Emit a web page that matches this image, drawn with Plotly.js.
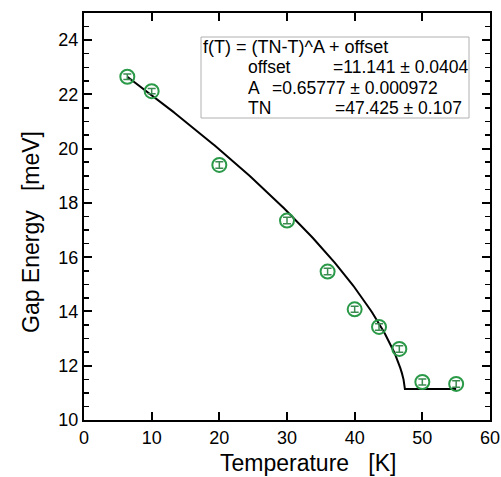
<!DOCTYPE html>
<html>
<head>
<meta charset="utf-8">
<script src="https://cdn.plot.ly/plotly-3.0.1.min.js"></script>
<style>html,body{margin:0;padding:0;background:#fff;}#chart{width:501px;height:477px;}</style>
</head>
<body>
<div id="chart"></div>
<script>
// Measured data
const temperature = [6.4, 10.0, 20.0, 30.0, 36.0, 40.0, 43.6, 46.6, 50.0, 55.0];
const gapEnergy   = [22.65, 22.12, 19.40, 17.35, 15.47, 14.08, 13.43, 12.62, 11.40, 11.33];
const gapError    = [0.10, 0.10, 0.12, 0.12, 0.12, 0.11, 0.12, 0.12, 0.11, 0.12];

// Fit parameters shown in the chart's text box
const fitNames  = ["offset", "A", "TN"];
const fitValues = [11.141, 0.65777, 47.425];
const fitErrors = ["0.0404", "0.000972", "0.107"];
const fitRange  = [6.4, 55.0];

const xTicks = [0, 10, 20, 30, 40, 50, 60];
const yTicks = [10, 12, 14, 16, 18, 20, 22, 24];

// fit curve f(T) = (TN-T)^A + offset (offset above TN)
const [offset, A, TN] = fitValues;
const fitT = [];
const nSteps = 200;
for (let i = 0; i <= nSteps; i++) {
  const t = fitRange[0] + (fitRange[1] - fitRange[0]) * i / nSteps;
  if (t < TN) fitT.push(t);
}
fitT.push(TN);
fitT.push(fitRange[1]);
const fitE = fitT.map(t => t < TN ? Math.pow(TN - t, A) + offset : offset);

const green = '#2b9a48';
const font = 'Liberation Sans, Arial, Helvetica, sans-serif';

// plot area pixel geometry for placing annotations
const L = 84, R = 490, TOP = 13, BOT = 420;
const px = x => (x - L) / (R - L);
const py = y => (BOT - y) / (BOT - TOP);

const traces = [
  {
    x: fitT, y: fitE, mode: 'lines', type: 'scatter',
    line: {color: '#000', width: 2}, hoverinfo: 'skip'
  },
  {
    x: temperature, y: gapEnergy, mode: 'markers', type: 'scatter',
    marker: {symbol: 'circle-open', size: 14, color: green, line: {color: green, width: 2}},
    error_y: {type: 'data', array: gapError, visible: true, color: '#3b8a50', thickness: 1.5, width: 4}
  }
];

const boxLines = [
  {text: 'f(T) = (TN-T)^A + offset', x: 201, y: 47, size: 18},
  {text: fitNames[0], x: 246, y: 67, size: 17.5},
  {text: '=' + fitValues[0] + ' \u00B1 ' + fitErrors[0], x: 331, y: 67, size: 17.5},
  {text: fitNames[1], x: 246, y: 88, size: 17.5},
  {text: '=' + fitValues[1] + ' \u00B1 ' + fitErrors[1], x: 270, y: 88, size: 17.5},
  {text: fitNames[2], x: 246, y: 108, size: 17.5},
  {text: '=' + fitValues[2] + ' \u00B1 ' + fitErrors[2], x: 333, y: 108, size: 17.5}
];

const annotations = boxLines.map(b => ({
  xref: 'paper', yref: 'paper', x: px(b.x), y: py(b.y),
  xanchor: 'left', yanchor: 'middle', showarrow: false,
  text: b.text, font: {family: font, size: b.size, color: '#000'}
}));

annotations.push({
  xref: 'paper', yref: 'paper', x: px(308), y: py(463),
  xanchor: 'center', yanchor: 'middle', showarrow: false,
  text: 'Temperature\u00A0\u00A0\u00A0[K]', font: {family: font, size: 23, color: '#000'}
});
annotations.push({
  xref: 'paper', yref: 'paper', x: px(31), y: py(232),
  xanchor: 'center', yanchor: 'middle', showarrow: false, textangle: -90,
  text: 'Gap Energy\u00A0\u00A0\u00A0[meV]', font: {family: font, size: 23, color: '#000'}
});

const layout = {
  width: 501, height: 477,
  margin: {l: L, r: 501 - R, t: TOP, b: 477 - BOT, pad: 0},
  paper_bgcolor: '#fff', plot_bgcolor: '#fff',
  showlegend: false,
  font: {family: font, color: '#000'},
  xaxis: {
    range: [0, 60], tickvals: xTicks, ticktext: xTicks.map(String),
    ticks: 'inside', ticklen: 8, tickwidth: 2, tickcolor: '#000',
    showline: true, linecolor: '#000', linewidth: 2, mirror: 'ticks',
    showgrid: false, zeroline: false,
    tickfont: {family: font, size: 18, color: '#000'}
  },
  yaxis: {
    range: [10, 25], tickvals: yTicks, ticktext: yTicks.map(String),
    ticks: 'inside', ticklen: 8, tickwidth: 2, tickcolor: '#000',
    showline: true, linecolor: '#000', linewidth: 2, mirror: 'ticks',
    showgrid: false, zeroline: false,
    tickfont: {family: font, size: 18, color: '#000'},
    minor: {ticks: 'inside', dtick: 0.5, ticklen: 5, tickwidth: 1.5, tickcolor: '#000', showgrid: false}
  },
  shapes: [{
    type: 'rect', xref: 'paper', yref: 'paper',
    x0: px(201), x1: px(469), y0: py(118), y1: py(37),
    line: {color: '#b0b0b0', width: 1}, fillcolor: '#fff', layer: 'above'
  }],
  annotations: annotations
};

Plotly.newPlot('chart', traces, layout, {staticPlot: true, displayModeBar: false});
</script>
</body>
</html>
